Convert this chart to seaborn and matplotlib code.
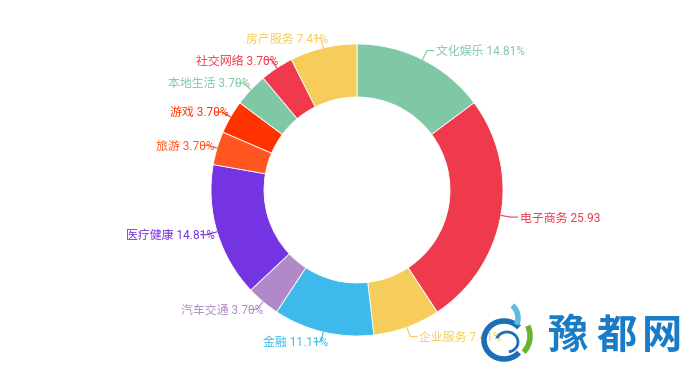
import numpy as np
import matplotlib.pyplot as plt
import seaborn as sns
from matplotlib.patches import Arc, Rectangle

# data
categories = ['文化娱乐', '电子商务', '企业服务', '金融', '汽车交通', '医疗健康',
              '旅游', '游戏', '本地生活', '社交网络', '房产服务']
percents = [14.81, 25.93, 7.41, 11.11, 3.70, 14.81, 3.70, 3.70, 3.70, 3.70, 7.41]
colors = ['#7ec8a5', '#ef3a4d', '#f6cd5a', '#3db9ec', '#b189c9', '#7434e2',
          '#ff5622', '#ff3300', '#7ec8a5', '#ef3a4d', '#f6cd5a']

sns.set_theme(style='white')
plt.rcParams['font.family'] = ['Roboto', 'Noto Sans CJK SC', 'DejaVu Sans']

fig = plt.figure(figsize=(6.88, 3.78), dpi=100)
ax = fig.add_axes([0, 0, 1, 1])

cx, cy, R, W = 357, 190, 146, 53
pal = sns.color_palette(colors)
wedges, _ = ax.pie(percents, colors=pal, center=(cx, cy), radius=R,
                   startangle=-90, counterclock=True,
                   wedgeprops=dict(width=W, edgecolor='white', linewidth=0.6))

ax.set_xlim(0, 688)
ax.set_ylim(378, 0)
ax.set_aspect('equal')
ax.axis('off')

# labels with short leader lines (right-hand one is cut off like the original)
clip = Rectangle((0, 0), 600, 378, transform=ax.transData)
for w, name, p, c in zip(wedges, categories, percents, colors):
    a = np.deg2rad((w.theta1 + w.theta2) / 2)
    x1, y1 = cx + R * np.cos(a), cy + R * np.sin(a)
    x2, y2 = cx + (R + 10) * np.cos(a), cy + (R + 10) * np.sin(a)
    right = np.cos(a) > 0
    x3 = x2 + 7 if right else x2 - 7
    txt = f'{name} {p:.2f}%'
    if right:
        t = ax.text(x2 + 9, y2 + 1, txt, color=c, fontsize=8.6, ha='left', va='center', zorder=3)
    else:
        t = ax.text(x2 + 7, y2 + 1, txt, color=c, fontsize=8.6, ha='right', va='center', zorder=3)
    t.set_clip_on(True)
    t.set_clip_path(clip)
    ax.plot([x1, x2, x3], [y1, y2, y2], color=c, lw=0.8, zorder=4)

# watermark
for ch, xx in zip('豫都网', [568, 617, 662]):
    ax.text(xx, 336, ch, color='#1b7cc6', fontsize=29, fontweight='bold',
            family=['Noto Sans CJK SC'], ha='center', va='center', zorder=5)
ax.add_patch(Arc((504, 340), 40, 38, theta1=40, theta2=320, color='#1b6fb8', lw=4, zorder=5))
ax.add_patch(Arc((507, 342), 22, 20, theta1=200, theta2=80, color='#1b6fb8', lw=2, zorder=5))
ax.add_patch(Arc((505, 318), 26, 30, theta1=-60, theta2=30, color='#5cbbe0', lw=4, zorder=5))
ax.add_patch(Arc((510, 336), 40, 44, theta1=-30, theta2=50, color='#6ab42d', lw=4, zorder=5))

fig.savefig('out.png', dpi=100)
